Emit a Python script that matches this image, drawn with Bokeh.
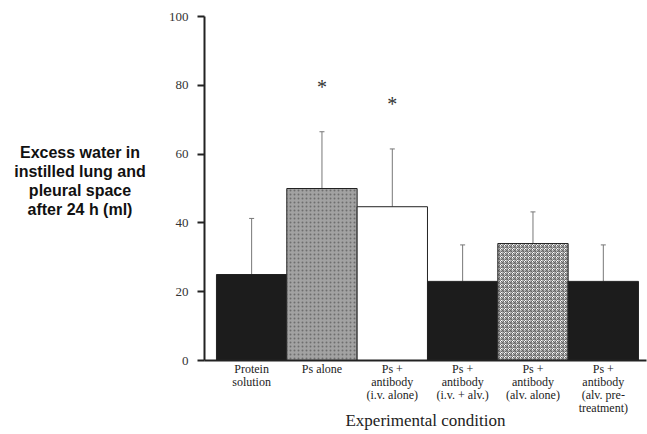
from bokeh.plotting import figure
from bokeh.layouts import row
from bokeh.models import Range1d, FixedTicker, ColumnDataSource, Whisker, TeeHead
from bokeh.core.properties import value
from bokeh.embed import file_html
from bokeh.resources import INLINE

# data
categories = ["Protein\nsolution", "Ps alone", "Ps +\nantibody\n(i.v. alone)",
              "Ps +\nantibody\n(i.v. + alv.)", "Ps +\nantibody\n(alv. alone)",
              "Ps +\nantibody\n(alv. pre-\ntreatment)"]
means = [25, 50, 44.7, 23, 34, 23]
upper_err = [41.3, 66.5, 61.5, 33.6, 43.2, 33.6]
star_idx = [2, 3]
star_y = [79.5, 74.6]
y_ticks = [0, 20, 40, 60, 80, 100]
y_title = "Excess water in\ninstilled lung and\npleural space\nafter 24 h (ml)"
x_title = "Experimental condition"

xs = list(range(1, len(categories) + 1))
fills = ["#1c1c1c", "#a2a2a2", "#ffffff", "#1c1c1c", "#ffffff", "#1c1c1c"]
hatches = [" ", "dot", " ", " ", "criss_cross", " "]
hatch_colors = ["#1c1c1c", "#6e6e6e", "#000000", "#1c1c1c", "#666666", "#1c1c1c"]

src = ColumnDataSource(dict(x=xs, top=means, upper=upper_err, fill=fills,
                            hatch=hatches, hcol=hatch_colors))

LEFT_W = 160

# left panel holding the horizontal y-axis title
lt = figure(width=LEFT_W, height=434, output_backend="svg", toolbar_location=None,
            x_range=Range1d(0, LEFT_W), y_range=Range1d(434, 0),
            x_axis_location=None, y_axis_location=None,
            min_border=0)
lt.outline_line_color = None
lt.grid.visible = False
lt.text(x=[79.5], y=[208], text=[y_title], text_font=value("Liberation Sans"),
        text_font_style="bold", text_font_size="16px", text_line_height=1.12,
        text_align="center", text_baseline="middle", text_color="#111111")

p = figure(width=647 - LEFT_W, height=434, output_backend="svg", toolbar_location=None,
           x_range=Range1d(0.33, 6.614), y_range=Range1d(0, 100),
           min_border_left=204 - LEFT_W, min_border_right=1, min_border_top=16,
           min_border_bottom=74)
p.outline_line_color = None
p.grid.visible = False
p.background_fill_color = "white"

p.vbar(x="x", top="top", width=1.0, bottom=0, source=src, fill_color="fill",
       line_color="#222222", line_width=1, hatch_pattern="hatch",
       hatch_color="hcol", hatch_scale=4, hatch_weight=1)

wh = Whisker(base="x", upper="upper", lower="top", source=src,
             upper_head=TeeHead(size=5, line_color="#777777", line_width=1),
             lower_head=None, line_color="#777777", line_width=1)
p.add_layout(wh)

p.text(x=star_idx, y=star_y, text=["*", "*"], text_font=value("Liberation Serif"),
       text_font_size="20px", text_align="center", text_baseline="middle",
       text_color="#333333")

# y axis
ya = p.yaxis[0]
ya.ticker = FixedTicker(ticks=y_ticks)
ya.minor_tick_line_color = None
ya.major_tick_out = 7
ya.major_tick_in = 0
ya.major_tick_line_width = 2
ya.major_tick_line_color = "#222222"
ya.axis_line_width = 2
ya.axis_line_color = "#222222"
ya.major_label_text_font = "Liberation Serif"
ya.major_label_text_font_size = "13px"
ya.major_label_text_color = "#333333"
ya.major_label_standoff = 9

# x axis
xa = p.xaxis[0]
xa.ticker = FixedTicker(ticks=xs)
xa.major_label_overrides = {x: c for x, c in zip(xs, categories)}
xa.minor_tick_line_color = None
xa.major_tick_line_color = None
xa.major_tick_in = 0
xa.major_tick_out = 0
xa.axis_line_width = 2
xa.axis_line_color = "#222222"
xa.major_label_text_font = "Liberation Serif"
xa.major_label_text_font_size = "12px"
xa.major_label_text_line_height = 0.93
xa.major_label_text_color = "#222222"
xa.major_label_standoff = 1
xa.axis_label = x_title
xa.axis_label_text_font = "Liberation Serif"
xa.axis_label_text_font_style = "normal"
xa.axis_label_text_font_size = "17px"
xa.axis_label_text_color = "#222222"
xa.axis_label_standoff = -7

layout = row(lt, p, spacing=0)
open("out.html", "w").write(file_html(layout, INLINE))
